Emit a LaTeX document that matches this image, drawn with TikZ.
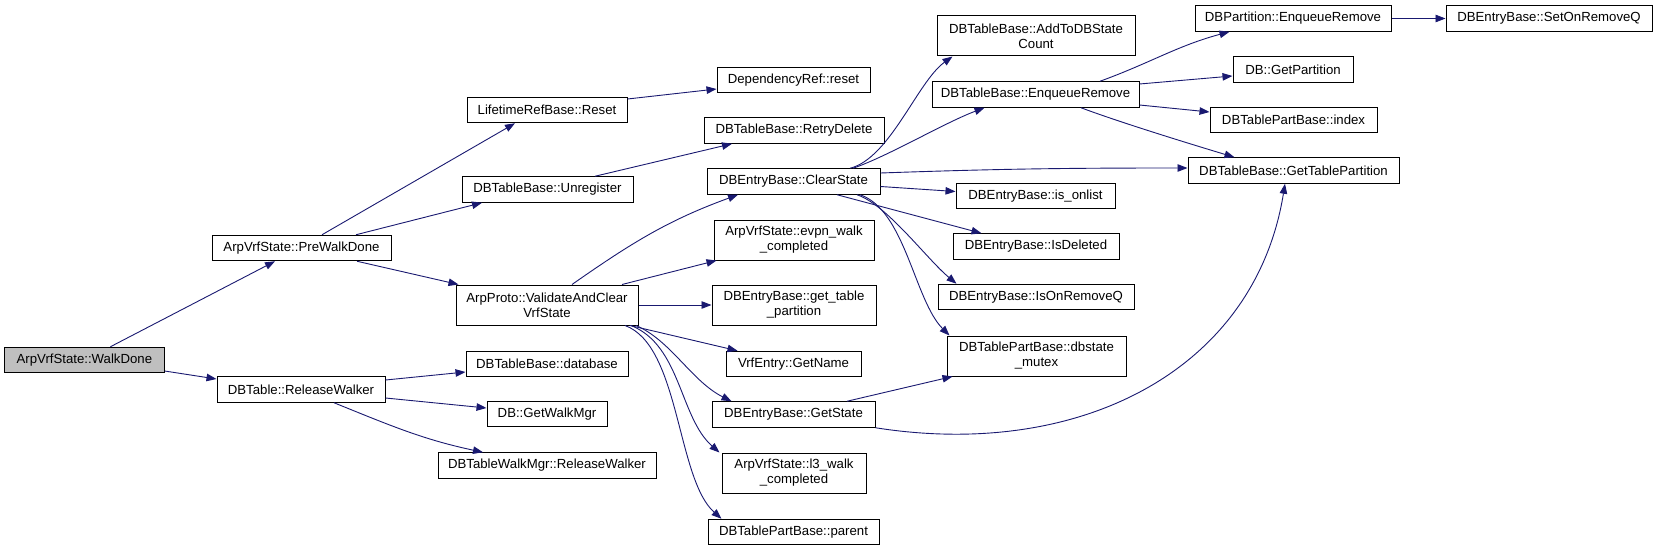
\documentclass[tikz,border=0pt]{standalone}
\usepackage{fontspec}
\usepackage{xcolor}
\usepackage{tikz}
\usetikzlibrary{arrows.meta}
\newfontfamily\doxfont{Liberation Sans}
\definecolor{callblue}{RGB}{25,25,112}
\definecolor{rootgray}{RGB}{191,191,191}
\tikzset{
  fn/.style={draw=black, line width=1pt, fill=white, rectangle, inner sep=0pt,
             minimum height=25.5pt, align=center,
             font=\doxfont\fontsize{13.2}{15}\selectfont},
  fntwo/.style={fn, minimum height=40pt},
  rootfn/.style={fn, fill=rootgray},
  call/.style={-{Triangle[length=10pt,width=7.5pt]}, line width=0.9pt, draw=callblue}
}
\begin{document}
\begin{tikzpicture}[x=1pt,y=-1pt]
        \useasboundingbox (0,0) rectangle (1657,551);
        \node[rootfn, minimum width=159.5pt] (walkdone) at (84.4,360) {ArpVrfState::WalkDone};
        \node[fn, minimum width=179pt] (prewalk) at (301.5,248) {ArpVrfState::PreWalkDone};
        \node[fn, minimum width=168pt] (relwalker) at (301,389.5) {DBTable::ReleaseWalker};
        \node[fn, minimum width=160pt] (reset) at (547,110) {LifetimeRefBase::Reset};
        \node[fn, minimum width=171pt] (unregister) at (547.5,189.5) {DBTableBase::Unregister};
        \node[fntwo, minimum width=182pt] (validate) at (547,305) {ArpProto::ValidateAndClear\\VrfState};
        \node[fn, minimum width=162pt] (database) at (547,364) {DBTableBase::database};
        \node[fn, minimum width=120pt] (getwalkmgr) at (547,414) {DB::GetWalkMgr};
        \node[fn, minimum width=218pt] (mgrrelease) at (547,465.5) {DBTableWalkMgr::ReleaseWalker};
        \node[fn, minimum width=153pt] (depreset) at (793.5,80) {DependencyRef::reset};
        \node[fn, minimum width=180pt] (retrydel) at (794,130.5) {DBTableBase::RetryDelete};
        \node[fn, minimum width=173pt] (clearstate) at (793.5,181.5) {DBEntryBase::ClearState};
        \node[fntwo, minimum width=160pt] (evpnwalk) at (794,240) {ArpVrfState::evpn\_walk\\\_completed};
        \node[fntwo, minimum width=164pt] (gettable) at (794,305) {DBEntryBase::get\_table\\\_partition};
        \node[fn, minimum width=135pt] (getname) at (793.5,364) {VrfEntry::GetName};
        \node[fn, minimum width=163pt] (getstate) at (793.5,414.5) {DBEntryBase::GetState};
        \node[fntwo, minimum width=144pt] (lthreewalk) at (794,473) {ArpVrfState::l3\_walk\\\_completed};
        \node[fn, minimum width=171pt] (partparent) at (793.5,532) {DBTablePartBase::parent};
        \node[fntwo, minimum width=198pt] (addcount) at (1036,36) {DBTableBase::AddToDBState\\Count};
        \node[fn, minimum width=207pt] (enqremove) at (1035.5,94.5) {DBTableBase::EnqueueRemove};
        \node[fn, minimum width=159pt] (isonlist) at (1035.5,196) {DBEntryBase::is\_onlist};
        \node[fn, minimum width=166pt] (isdeleted) at (1036,246.5) {DBEntryBase::IsDeleted};
        \node[fn, minimum width=196pt] (isonremq) at (1036,297) {DBEntryBase::IsOnRemoveQ};
        \node[fntwo, minimum width=179pt] (mutex) at (1036.5,356) {DBTablePartBase::dbstate\\\_mutex};
        \node[fn, minimum width=196pt] (partenq) at (1293,18.5) {DBPartition::EnqueueRemove};
        \node[fn, minimum width=120pt] (getpart) at (1293,69.5) {DB::GetPartition};
        \node[fn, minimum width=167pt] (partindex) at (1293.5,120) {DBTablePartBase::index};
        \node[fn, minimum width=211pt] (tablepart) at (1293.5,170.5) {DBTableBase::GetTablePartition};
        \node[fn, minimum width=206pt] (setonremq) at (1549,18.5) {DBEntryBase::SetOnRemoveQ};
        \draw[call] ([xshift=26pt]walkdone.north) -- ([xshift=-26.5pt]prewalk.south);
        \draw[call] ([yshift=-11pt]walkdone.east) -- ([yshift=10.5pt]relwalker.west);
        \draw[call] ([xshift=20.5pt]prewalk.north) -- ([xshift=-32pt]reset.south);
        \draw[call] ([xshift=54.5pt]prewalk.north) -- ([xshift=-65.5pt]unregister.south);
        \draw[call] ([xshift=55.5pt]prewalk.south) -- ([xshift=3pt]validate.north west);
        \draw[call] ([yshift=9.5pt]relwalker.east) -- ([yshift=-8pt]database.west);
        \draw[call] ([yshift=-8.5pt]relwalker.east) -- ([yshift=6pt]getwalkmgr.west);
        \draw[call] ([xshift=33pt]relwalker.south) to[out=-22,in=168] ([xshift=-64pt]mgrrelease.north);
        \draw[call] ([yshift=11pt]reset.east) -- ([yshift=-9pt]depreset.west);
        \draw[call] ([xshift=47.5pt]unregister.north) -- ([xshift=-62pt]retrydel.south);
        \draw[call] ([xshift=25pt]validate.north) to[out=35,in=200] ([xshift=-55.5pt]clearstate.south);
        \draw[call] ([xshift=75pt]validate.north) -- ([xshift=3pt]evpnwalk.south west);
        \draw[call] (validate.east) -- (gettable.west);
        \draw[call] ([xshift=83pt]validate.south) -- ([xshift=12pt]getname.north west);
        \draw[call] ([xshift=89pt]validate.south) .. controls +(35,15) and +(-40,-20) .. ([xshift=20pt]getstate.north west);
        \draw[call] ([xshift=84pt]validate.south) .. controls +(50,20) and +(-40,-35) .. ([xshift=-2pt]lthreewalk.north west);
        \draw[call] ([xshift=78pt]validate.south) .. controls +(55,20) and +(-45,-40) .. ([xshift=14pt]partparent.north west);
        \draw[call] ([xshift=56.5pt]clearstate.north) .. controls +(40,-10) and +(-35,25) .. ([xshift=16pt]addcount.south west);
        \draw[call] ([xshift=59.5pt]clearstate.north) .. controls +(35,-12) and +(-40,15) .. ([xshift=53pt]enqremove.south west);
        \draw[call] ([yshift=8.5pt]clearstate.east) to[out=2,in=180] ([yshift=2.5pt]tablepart.west);
        \draw[call] ([yshift=-5pt]clearstate.east) -- ([yshift=4.5pt]isonlist.west);
        \draw[call] ([xshift=43.5pt]clearstate.south) -- ([xshift=29pt]isdeleted.north west);
        \draw[call] ([xshift=63.5pt]clearstate.south) .. controls +(30,10) and +(-30,-25) .. ([xshift=19pt]isonremq.north west);
        \draw[call] ([xshift=66.5pt]clearstate.south) .. controls +(45,15) and +(-35,-35) .. ([xshift=3pt]mutex.north west);
        \draw[call] ([xshift=64.5pt]enqremove.north) to[out=20,in=195] ([xshift=35pt]partenq.south west);
        \draw[call] ([yshift=10.5pt]enqremove.east) -- ([yshift=-6.5pt]getpart.west);
        \draw[call] ([yshift=-10.5pt]enqremove.east) -- ([yshift=8pt]partindex.west);
        \draw[call] ([xshift=45.5pt]enqremove.south) .. controls +(40,15) and +(-40,-12) .. ([xshift=47pt]tablepart.north west);
        \draw[call] (partenq.east) -- (setonremq.west);
        \draw[call] ([xshift=53.5pt]getstate.north) -- ([xshift=6pt]mutex.south west);
        \draw[call] (getstate.south east) .. controls (1080,460) and (1255,370) .. ([xshift=-8.5pt]tablepart.south);
      \end{tikzpicture}
\end{document}
